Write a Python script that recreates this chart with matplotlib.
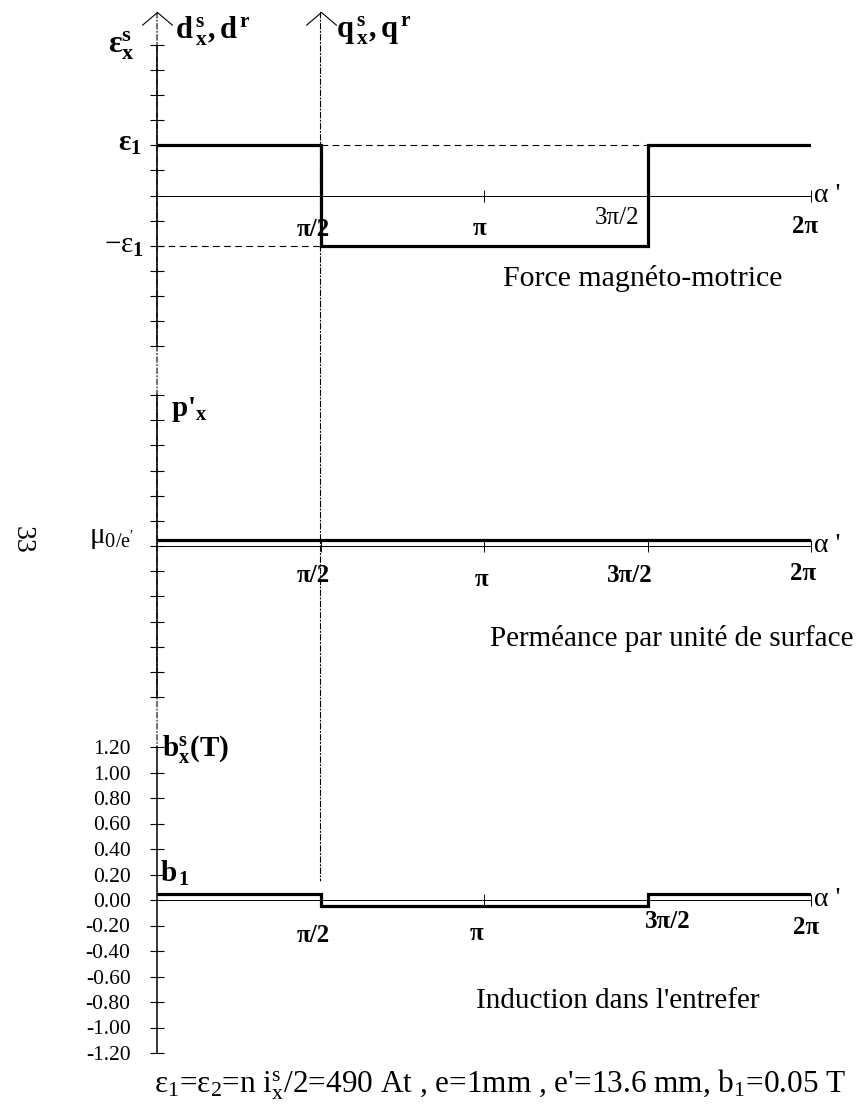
import numpy as np
import matplotlib.pyplot as plt
from matplotlib.patches import ConnectionPatch

plt.rcParams['font.family'] = 'Liberation Serif'
plt.rcParams['mathtext.fontset'] = 'custom'
plt.rcParams['mathtext.rm'] = 'Liberation Serif'
plt.rcParams['mathtext.it'] = 'Liberation Serif:italic'
plt.rcParams['mathtext.bf'] = 'Liberation Serif:bold'

# step edges in alpha' (rad)
edges = np.array([0, np.pi / 2, 3 * np.pi / 2, 2 * np.pi])
# force magneto-motrice, in tick units (eps1 = 2 ticks)
mmf = [2, -2, 2]
# permeance per unit surface (mu0/e'), tick units
perm = [0.25, 0.25, 0.25]
# air-gap induction (T)
b_ind = [0.05, -0.05, 0.05]

b_ticks = [-1.2, -1.0, -0.8, -0.6, -0.4, -0.2, 0.0, 0.2, 0.4, 0.6, 0.8, 1.0, 1.2]
b_labels = ['-1.20', '-1.00', '-0.80', '-0.60', '-0.40', '-0.20', '0.00',
            '0.20', '0.40', '0.60', '0.80', '1.00', '1.20']
x_ticks = [np.pi / 2, np.pi, 3 * np.pi / 2, 2 * np.pi]

W, H = 861, 1112
fig = plt.figure(figsize=(W / 100, H / 100), dpi=100)


def add_ax(top, bottom):
    ax = fig.add_axes([157 / W, 1 - bottom / H, 654 / W, (bottom - top) / H])
    ax.set_xlim(0, 2 * np.pi)
    for s in ['top', 'right']:
        ax.spines[s].set_visible(False)
    ax.spines['bottom'].set_position(('data', 0))
    ax.spines['bottom'].set_linewidth(0.7)
    ax.spines['left'].set_linewidth(1.1)
    ax.set_xticks(x_ticks)
    ax.set_xticklabels([])
    ax.tick_params(axis='x', direction='inout', length=8, width=0.7)
    ax.tick_params(axis='y', direction='inout', length=10, width=0.8)
    ax.patch.set_visible(False)
    return ax


ax1 = add_ax(45, 346)
ax1.set_ylim(-6, 6)
ax1.set_yticks(range(-6, 7))
ax1.set_yticklabels([])

ax2 = add_ax(395, 697)
ax2.set_ylim(-6, 6)
ax2.set_yticks(range(-6, 7))
ax2.set_yticklabels([])

ax3 = add_ax(747, 1053)
ax3.set_ylim(-1.2, 1.2)
ax3.set_yticks(b_ticks)
ax3.set_yticklabels(b_labels, fontsize=15.5)
ax3.tick_params(axis='y', pad=14)

# curves
ax1.stairs(mmf, edges, baseline=None, color='black', lw=2.3)
ax2.stairs(perm, edges, baseline=None, color='black', lw=2.3)
ax3.stairs(b_ind, edges, baseline=None, color='black', lw=2.3)

# dashed guides at +/- eps1
ax1.hlines(mmf[0], edges[1], edges[2], colors='black', linestyles=(0, (6, 4)), lw=0.8)
ax1.hlines(mmf[1], edges[0], edges[1], colors='black', linestyles=(0, (6, 4)), lw=0.8)

# vertical dash-dot axes d and q
top_y = 7.3
for xv, yb in [(0, 1.2), (np.pi / 2, 0.15)]:
    con = ConnectionPatch(xyA=(xv, top_y), coordsA=ax1.transData,
                          xyB=(xv, yb), coordsB=ax3.transData,
                          ls=(0, (5, 2, 1, 2)), lw=0.8, color='black')
    fig.add_artist(con)
    ax1.plot([xv], [top_y], marker=[(-1, -0.85), (0, 0), (1, -0.85)],
             markersize=22, fillstyle='none', color='black', mew=0.8,
             clip_on=False)

pi_lab = dict(fontsize=18, fontweight='bold', ha='center', va='center',
              textcoords='offset pixels', annotation_clip=False)
alpha_lab = dict(fontsize=20, ha='left', va='center',
                 textcoords='offset pixels', annotation_clip=False)

# top panel labels
ax1.annotate('π/2', (np.pi / 2, 0), (-7, -34), **pi_lab)
ax1.annotate('π', (np.pi, 0), (-4, -33), **pi_lab)
ax1.annotate('3π/2', (3 * np.pi / 2, 0), (-30, -22), **dict(pi_lab, fontweight='normal'))
ax1.annotate('2π', (2 * np.pi, 0), (-6, -31), **pi_lab)
ax1.annotate("α '", (2 * np.pi, 0), (3, 0), **alpha_lab)
ax1.annotate(r'ε$_{\mathbf{1}}$', (0, mmf[0]), (-15, 2), fontsize=21, fontweight='bold',
             ha='right', va='center', textcoords='offset pixels')
ax1.annotate(r'−ε$_{\mathbf{1}}$', (0, mmf[1]), (-13, 0), fontsize=21,
             ha='right', va='center', textcoords='offset pixels')
ax1.annotate(r'$\mathbf{ε}_{\mathbf{x}}^{\mathbf{s}}$', (0, 6), (-36, -1), fontsize=23,
             ha='center', va='center', textcoords='offset pixels', annotation_clip=False)
ax1.annotate(r'$\mathbf{d}\,_{\mathbf{x}}^{\mathbf{s}}\mathbf{,d}^{\mathbf{\,r}}$', (0, 6), (18, 14),
             fontsize=22, ha='left', va='center', textcoords='offset pixels',
             annotation_clip=False)
ax1.annotate(r'$\mathbf{q}\,_{\mathbf{x}}^{\mathbf{s}}\mathbf{,q}^{\mathbf{\,r}}$', (np.pi / 2, 6), (15, 14),
             fontsize=22, ha='left', va='center', textcoords='offset pixels',
             annotation_clip=False)
ax1.text(782 / W, 1 - 279 / H, 'Force magnéto-motrice', transform=fig.transFigure,
         fontsize=21.5, ha='right', va='center')

# middle panel labels
ax2.annotate('π/2', (np.pi / 2, 0), (-7, -29), **pi_lab)
ax2.annotate('π', (np.pi, 0), (-2, -33), **pi_lab)
ax2.annotate('3π/2', (3 * np.pi / 2, 0), (-18, -30), **pi_lab)
ax2.annotate('2π', (2 * np.pi, 0), (-8, -27), **pi_lab)
ax2.annotate("α '", (2 * np.pi, 0), (3, 0), **alpha_lab)
ax2.annotate(r"p'$_{\mathbf{x}}$", (0, 6), (14, -15), fontsize=21, fontweight='bold',
             ha='left', va='center', textcoords='offset pixels')
ax2.annotate(r"μ$_{0/\mathrm{e'}}$", (0, perm[0]), (-23, 2), fontsize=21,
             ha='right', va='center', textcoords='offset pixels')
ax2.text(853 / W, 1 - 638 / H, 'Perméance par unité de surface', transform=fig.transFigure,
         fontsize=21, ha='right', va='center')

# bottom panel labels
ax3.annotate('π/2', (np.pi / 2, 0), (-7, -35), **pi_lab)
ax3.annotate('π', (np.pi, 0), (-7, -33), **pi_lab)
ax3.annotate('3π/2', (3 * np.pi / 2, 0), (20, -22), **pi_lab)
ax3.annotate('2π', (2 * np.pi, 0), (-5, -28), **pi_lab)
ax3.annotate("α '", (2 * np.pi, 0), (3, 0), **alpha_lab)
ax3.annotate(r'$\mathbf{b}_{\mathbf{x}}^{\mathbf{s}}\mathbf{(T)}$', (0, 1.2), (5, -3), fontsize=21,
             ha='left', va='center', textcoords='offset pixels', annotation_clip=False)
ax3.annotate(r'$\mathbf{b}_{\,\mathbf{1}}$', (0, 0.2), (3, 1), fontsize=21,
             ha='left', va='center', textcoords='offset pixels')
ax3.text(760 / W, 1 - 1001 / H, "Induction dans l'entrefer", transform=fig.transFigure,
         fontsize=21, ha='right', va='center')

fig.text(500 / W, 1 - 1085 / H,
         r"ε$_1$=ε$_2$=n i$_\mathrm{x}^\mathrm{s}$/2=490 At , e=1mm , e'=13.6 mm, b$_1$=0.05 T",
         fontsize=22.5, ha='center', va='center')
fig.text(22 / W, 1 - 540 / H, '33', rotation=-90, fontsize=20, ha='center', va='center')

fig.savefig('out.png', dpi=100)
